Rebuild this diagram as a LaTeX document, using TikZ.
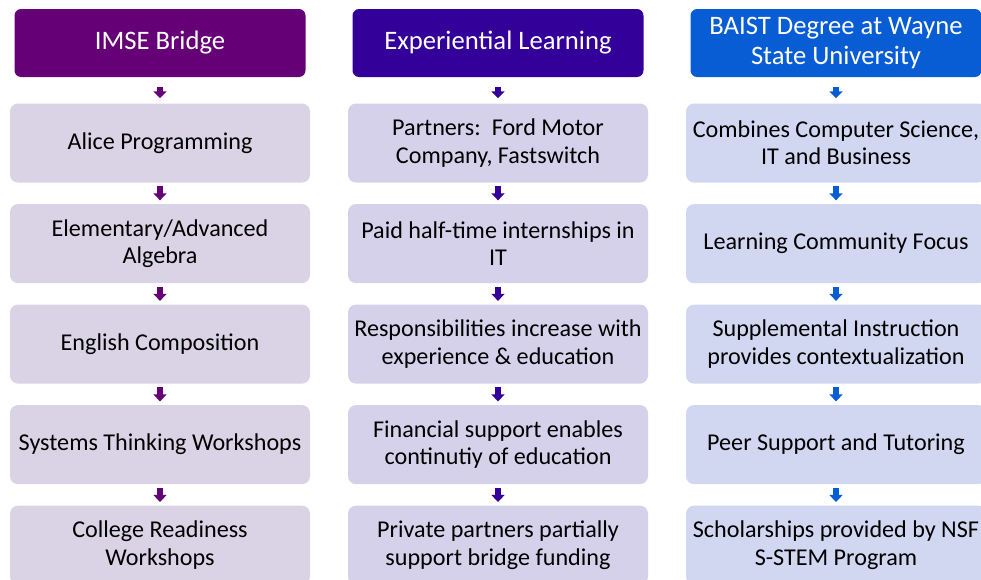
\documentclass[tikz,border=0pt]{standalone}
\usepackage{fontspec}
\setmainfont{Carlito}
\usetikzlibrary{positioning,arrows.meta}
\definecolor{hdpurple}{RGB}{102,0,119}
\definecolor{hdindigo}{RGB}{51,0,153}
\definecolor{hdblue}{RGB}{8,92,212}
\definecolor{bxlav}{RGB}{217,211,229}
\definecolor{bxlil}{RGB}{213,209,235}
\definecolor{bxsky}{RGB}{209,214,241}
\tikzset{
  x=0.75pt, y=-0.75pt, node distance=15.75pt,
  basenode/.style = {rectangle, rounded corners=5pt, align=center, inner sep=2pt},
  hd/.style = {basenode, white, minimum width=218.25pt, minimum height=51pt, font=\fontsize{20}{22.5}\selectfont},
  hd_p/.style = {hd, fill=hdpurple},
  hd_i/.style = {hd, fill=hdindigo},
  hd_b/.style = {hd, fill=hdblue},
  bx/.style = {basenode, black, rounded corners=6pt, minimum width=225pt, minimum height=59.25pt, font=\fontsize{18.1}{20.5}\selectfont},
  bx_p/.style = {bx, fill=bxlav},
  bx_i/.style = {bx, fill=bxlil},
  bx_b/.style = {bx, fill=bxsky},
  ar/.style = {line width=5pt, -{Triangle[length=5.25pt,width=9.75pt]}, shorten <=2.6pt, shorten >=2.6pt},
  ar_top/.style = {ar, shorten <=7.5pt, shorten >=3.75pt}
}
\begin{document}
\begin{tikzpicture}
	\useasboundingbox (0,0) rectangle (981,579);
	\node [hd_p] (h1) at (160,43) {IMSE Bridge};
	\node [bx_p, below=19.5pt of h1] (a1) {Alice Programming};
	\node [bx_p, below=of a1] (a2) {Elementary/Advanced\\Algebra};
	\node [bx_p, below=of a2] (a3) {English Composition};
	\node [bx_p, below=of a3] (a4) {Systems Thinking Workshops};
	\node [bx_p, below=of a4] (a5) {College Readiness\\Workshops};

	\node [hd_i] (h2) at (498,43) {Experiential Learning};
	\node [bx_i, below=19.5pt of h2] (b1) {Partners:\ \ Ford Motor\\Company, Fastswitch};
	\node [bx_i, below=of b1] (b2) {Paid half-time internships in\\IT};
	\node [bx_i, below=of b2] (b3) {Responsibilities increase with\\experience \& education};
	\node [bx_i, below=of b3] (b4) {Financial support enables\\continutiy of education};
	\node [bx_i, below=of b4] (b5) {Private partners partially\\support bridge funding};

	\node [hd_b] (h3) at (836,43) {BAIST Degree at Wayne\\State University};
	\node [bx_b, below=19.5pt of h3] (c1) {Combines Computer Science,\\IT and Business};
	\node [bx_b, below=of c1] (c2) {Learning Community Focus};
	\node [bx_b, below=of c2] (c3) {Supplemental Instruction\\provides contextualization};
	\node [bx_b, below=of c3] (c4) {Peer Support and Tutoring};
	\node [bx_b, below=of c4] (c5) {Scholarships provided by NSF\\S-STEM Program};

	\draw [ar_top, hdpurple] (h1) -- (a1);
	\draw [ar, hdpurple] (a1) edge (a2) (a2) edge (a3) (a3) edge (a4) (a4) edge (a5);
	\draw [ar_top, hdindigo] (h2) -- (b1);
	\draw [ar, hdindigo] (b1) edge (b2) (b2) edge (b3) (b3) edge (b4) (b4) edge (b5);
	\draw [ar_top, hdblue] (h3) -- (c1);
	\draw [ar, hdblue] (c1) edge (c2) (c2) edge (c3) (c3) edge (c4) (c4) edge (c5);
\end{tikzpicture}
\end{document}
